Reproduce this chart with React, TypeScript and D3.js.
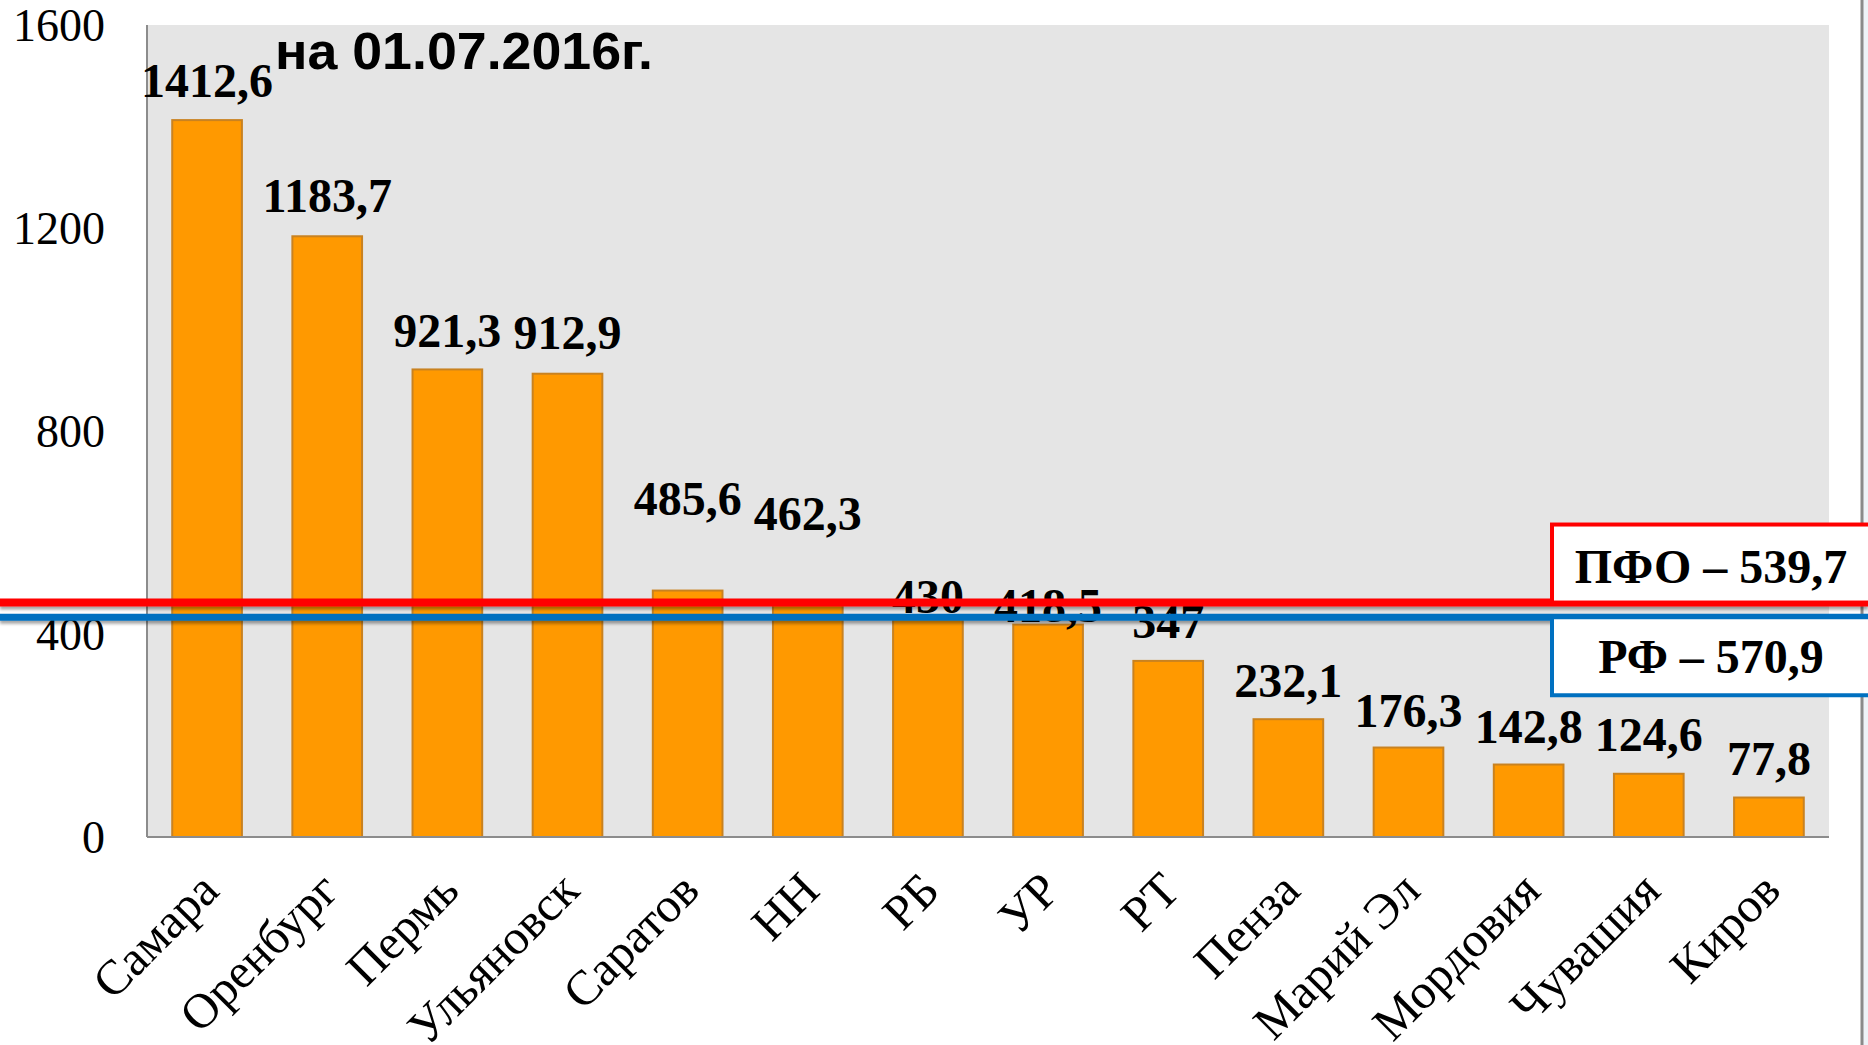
import * as d3 from "d3";

const regions = [
  "Самара", "Оренбург", "Пермь", "Ульяновск", "Саратов", "НН", "РБ",
  "УР", "РТ", "Пенза", "Марий Эл", "Мордовия", "Чувашия", "Киров",
];
const values = [
  1412.6, 1183.7, 921.3, 912.9, 485.6, 462.3, 430, 418.5, 347, 232.1,
  176.3, 142.8, 124.6, 77.8,
];
const yTicks = [0, 400, 800, 1200, 1600];

// reference lines: text as printed, level as drawn on the slide
const pfoText = "ПФО – 539,7";
const rfText = "РФ – 570,9";
const pfoLevel = 462;
const rfLevel = 433;

const title = "на 01.07.2016г.";

// how far each value label sits above its bar (px), moved by hand on the slide
const labelLift = [23, 24, 22, 25, 76, 72, 6, 3, 23, 22, 21, 22, 23, 23];

const W = 1868;
const H = 1045;
const plot = { left: 147, right: 1829, top: 25, bottom: 837 };

const fmt = (v: number) => String(v).replace(".", ",");

export default function App() {
  const x = d3
    .scaleBand<string>()
    .domain(regions)
    .range([plot.left, plot.right])
    .paddingInner(0.42)
    .paddingOuter(0.21);

  const y = d3.scaleLinear().domain([0, 1600]).range([plot.bottom, plot.top]);

  const serif = "'Liberation Serif', 'Times New Roman', serif";
  const sans = "'Liberation Sans', Arial, sans-serif";
  const boxLeft = 1552;
  const boxH = 78;

  return (
    <svg
      width={W}
      height={H}
      style={{ position: "absolute", left: 0, top: 0, display: "block", background: "#fff" }}
    >
      <defs>
        <filter id="shadow" filterUnits="userSpaceOnUse" x={0} y={0} width={W} height={H}>
          <feDropShadow dx="0" dy="3" stdDeviation="1.8" floodColor="#000" floodOpacity="0.35" />
        </filter>
      </defs>

      {/* slide border at the right */}
      <rect x={1863} y={0} width={W - 1863} height={H} fill="#eef3f8" />
      <line x1={1862} x2={1862} y1={0} y2={H} stroke="#8a8a8a" strokeWidth={3} />

      {/* plot background */}
      <rect
        x={plot.left}
        y={plot.top}
        width={plot.right - plot.left}
        height={plot.bottom - plot.top}
        fill="#e5e5e5"
      />

      {/* bars */}
      {regions.map((r, i) => (
        <rect
          key={r}
          x={x(r)!}
          y={y(values[i])}
          width={x.bandwidth()}
          height={y(0) - y(values[i])}
          fill="#ff9900"
          stroke="#c98220"
          strokeWidth={2}
        />
      ))}

      {/* axes */}
      <line x1={plot.left} x2={plot.left} y1={plot.top} y2={plot.bottom} stroke="#8c8c8c" strokeWidth={2} />
      <line x1={plot.left} x2={plot.right} y1={plot.bottom} y2={plot.bottom} stroke="#8c8c8c" strokeWidth={2} />

      {yTicks.map((t) => (
        <text
          key={t}
          x={105}
          y={y(t)}
          dy="0.35em"
          textAnchor="end"
          fontFamily={serif}
          fontSize={46}
          fill="#000"
        >
          {t}
        </text>
      ))}

      {regions.map((r) => {
        const cx = x(r)! + x.bandwidth() / 2;
        return (
          <text
            key={r}
            transform={`translate(${cx + 14},${plot.bottom + 56}) rotate(-45)`}
            textAnchor="end"
            fontFamily={serif}
            fontSize={49}
            fill="#000"
          >
            {r}
          </text>
        );
      })}

      {/* value labels */}
      {regions.map((r, i) => (
        <text
          key={r}
          x={x(r)! + x.bandwidth() / 2}
          y={y(values[i]) - labelLift[i]}
          textAnchor="middle"
          fontFamily={serif}
          fontWeight="bold"
          fontSize={48}
          fill="#000"
        >
          {fmt(values[i])}
        </text>
      ))}

      <text
        x={275}
        y={69}
        fontFamily={sans}
        fontWeight="bold"
        fontSize={52}
        textLength={378}
        lengthAdjust="spacingAndGlyphs"
        fill="#000"
      >
        {title}
      </text>

      {/* reference lines */}
      <line x1={0} x2={W} y1={y(pfoLevel)} y2={y(pfoLevel)} stroke="#ff0000" strokeWidth={8} filter="url(#shadow)" />
      <line x1={0} x2={W} y1={y(rfLevel)} y2={y(rfLevel)} stroke="#0070c0" strokeWidth={7} filter="url(#shadow)" />

      {/* callout boxes */}
      <rect
        x={boxLeft}
        y={y(pfoLevel) - boxH}
        width={W - boxLeft + 20}
        height={boxH}
        fill="#fff"
        stroke="#ff0000"
        strokeWidth={4}
      />
      <text
        x={1711}
        y={y(pfoLevel) - 20}
        textAnchor="middle"
        fontFamily={serif}
        fontWeight="bold"
        fontSize={48}
        fill="#000"
      >
        {pfoText}
      </text>
      <rect
        x={boxLeft}
        y={y(rfLevel)}
        width={W - boxLeft + 20}
        height={boxH}
        fill="#fff"
        stroke="#0070c0"
        strokeWidth={4}
      />
      <text
        x={1711}
        y={y(rfLevel) + 56}
        textAnchor="middle"
        fontFamily={serif}
        fontWeight="bold"
        fontSize={48}
        fill="#000"
      >
        {rfText}
      </text>
    </svg>
  );
}
